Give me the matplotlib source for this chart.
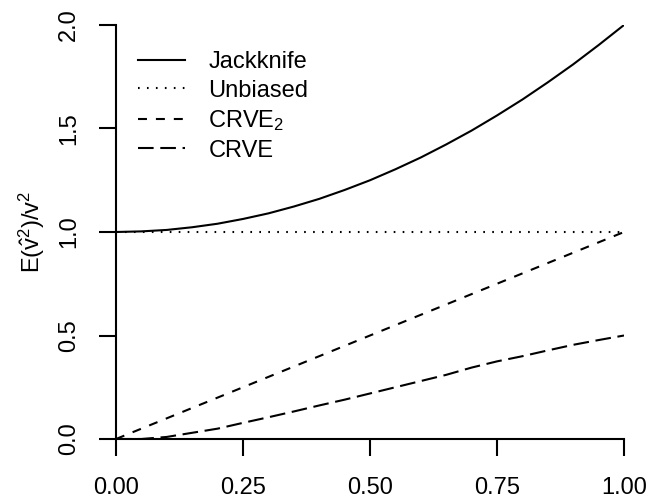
import matplotlib
matplotlib.use("Agg")
import matplotlib.pyplot as plt

plt.rcParams['font.family'] = ['Liberation Sans', 'DejaVu Sans']
plt.rcParams['mathtext.fontset'] = 'custom'
plt.rcParams['mathtext.rm'] = 'Liberation Sans'
plt.rcParams['mathtext.it'] = 'Liberation Sans:italic'

x = [0.00, 0.05, 0.10, 0.15, 0.20, 0.25, 0.30, 0.35, 0.40, 0.45, 0.50,
     0.55, 0.60, 0.65, 0.70, 0.75, 0.80, 0.85, 0.90, 0.95, 1.00]
jackknife = [1.000, 1.003, 1.010, 1.023, 1.040, 1.063, 1.090, 1.123, 1.160, 1.203, 1.250,
             1.303, 1.360, 1.423, 1.490, 1.563, 1.640, 1.723, 1.810, 1.903, 2.000]
unbiased = [1.0] * 21
crve2 = [0.00, 0.05, 0.10, 0.15, 0.20, 0.25, 0.30, 0.35, 0.40, 0.45, 0.50,
         0.55, 0.60, 0.65, 0.70, 0.75, 0.80, 0.85, 0.90, 0.95, 1.00]
crve = [0.000, 0.000, 0.010, 0.030, 0.050, 0.078, 0.105, 0.133, 0.162, 0.190, 0.220,
        0.250, 0.280, 0.310, 0.345, 0.375, 0.400, 0.428, 0.455, 0.478, 0.500]

labels = ['Jackknife', 'Unbiased', r'CRVE$_\mathrm{2}$', 'CRVE']
xticks = [0.00, 0.25, 0.50, 0.75, 1.00]
xticklabels = ['0.00', '0.25', '0.50', '0.75', '1.00']
yticks = [0.0, 0.5, 1.0, 1.5, 2.0]
yticklabels = ['0.0', '0.5', '1.0', '1.5', '2.0']

FS = 17

fig = plt.figure(figsize=(6.49, 4.99), dpi=100)
ax = fig.add_axes([116/649, 60/499, 508/649, 414/499])

lw = 1.5
ax.plot(x, jackknife, color='black', lw=lw, linestyle='-', label=labels[0])
ax.plot(x, unbiased, color='black', lw=lw, linestyle=(0, (0.8, 3.5)), label=labels[1])
ax.plot(x, crve2, color='black', lw=lw, linestyle=(0, (4.3, 4.3)), label=labels[2])
ax.plot(x, crve, color='black', lw=lw, linestyle=(0, (7.5, 3.2)), label=labels[3])

ax.set_xlim(0, 1)
ax.set_ylim(0, 2)
ax.spines['top'].set_visible(False)
ax.spines['right'].set_visible(False)
for s in ['left', 'bottom']:
    ax.spines[s].set_linewidth(1.5)

ax.set_xticks(xticks)
ax.set_xticklabels(xticklabels)
ax.set_yticks(yticks)
ax.set_yticklabels(yticklabels, rotation=90, va='center')
ax.tick_params(axis='both', direction='out', length=12, width=1.5, labelsize=FS)
ax.tick_params(axis='x', pad=15)
ax.tick_params(axis='y', pad=14)

ax.set_ylabel(r'E$(\hat{\mathrm{v}}^\mathrm{2})/\mathrm{v}^\mathrm{2}$', fontsize=FS)
ax.yaxis.set_label_coords(-0.135, 0.5)

leg = ax.legend(loc='upper left', bbox_to_anchor=(0.024, 0.96), frameon=False,
                fontsize=FS, handlelength=2.0, handletextpad=1.0, labelspacing=0.28,
                borderaxespad=0)

fig.savefig('out.png', dpi=100)
